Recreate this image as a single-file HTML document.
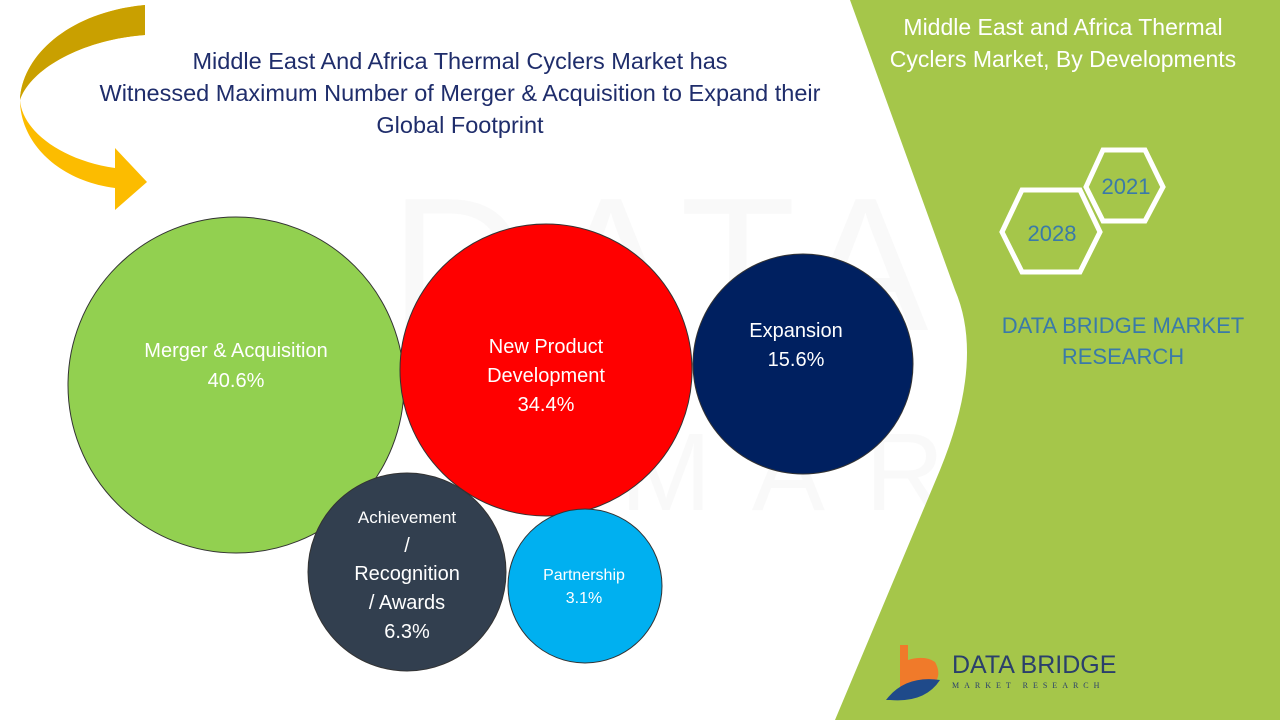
<!DOCTYPE html>
<html><head><meta charset="utf-8"><style>
html,body{margin:0;padding:0;width:1280px;height:720px;overflow:hidden;background:#fff;font-family:"Liberation Sans",sans-serif}
</style></head><body>
<svg width="1280" height="720" viewBox="0 0 1280 720" xmlns="http://www.w3.org/2000/svg" style="position:absolute;left:0;top:0">
<rect width="1280" height="720" fill="#fff"/>
<g opacity="0.035" font-family="Liberation Sans, sans-serif" fill="#777">
<text x="390" y="330" font-size="190" letter-spacing="20">DATA BRIDGE</text>
<text x="620" y="510" font-size="110" letter-spacing="40">MARKET RESEARCH</text>
</g>
<path d="M850 0 L1280 0 L1280 720 L835 720 L940 470 Q985 360 955 290 Z" fill="#a5c64a"/>
<!-- arrow -->
<path d="M145 5 C70 12 22 55 20 100 C22 130 60 160 115 168 L115 148 L147 182 L115 210 L115 188 C55 180 20 140 20 100 C30 70 80 40 145 35 Z" fill="#fcbc00"/>
<path d="M145 5 C70 12 22 55 20 100 C30 70 80 40 145 35 Z" fill="#c9a000"/>
<g font-family="Liberation Sans, sans-serif" font-size="23.5" fill="#1f2d6b" text-anchor="middle">
<text x="460" y="69">Middle East And Africa Thermal Cyclers Market has</text>
<text x="460" y="101">Witnessed Maximum Number of Merger &amp; Acquisition to Expand their</text>
<text x="460" y="133">Global Footprint</text>
</g>
<g font-family="Liberation Sans, sans-serif" font-size="23" fill="#fff" text-anchor="middle">
<text x="1063" y="35">Middle East and Africa Thermal</text>
<text x="1063" y="67">Cyclers Market, By Developments</text>
</g>
<polygon points="1103,150 1145,150 1163,187 1145,221 1103,221 1086,187" fill="none" stroke="#fff" stroke-width="5"/>
<polygon points="1022,190 1080,190 1100,232 1080,272 1022,272 1002,232" fill="none" stroke="#fff" stroke-width="5"/>
<g font-family="Liberation Sans, sans-serif" font-size="22" fill="#3a7aa8" text-anchor="middle">
<text x="1126" y="194">2021</text>
<text x="1052" y="241">2028</text>
<text x="1123" y="333">DATA BRIDGE MARKET</text>
<text x="1123" y="364">RESEARCH</text>
</g>
<path d="M900 645 L900 690 L925 690 Q945 680 935 662 Q925 655 908 660 L908 645 Z" fill="#f07a2a"/>
<path d="M886 700 Q905 675 940 680 Q925 703 890 700 Z" fill="#1f4a8a"/>
<text x="952" y="673" font-family="Liberation Sans, sans-serif" font-size="25" fill="#2a3f6b">DATA BRIDGE</text>
<text x="952" y="688" font-family="Liberation Serif, serif" font-size="8" fill="#2a3f6b" letter-spacing="5">MARKET RESEARCH</text>
<g stroke="#333" stroke-width="1">
<circle cx="236" cy="385" r="168" fill="#92d050"/>
<circle cx="546" cy="370" r="146" fill="#ff0000"/>
<circle cx="803" cy="364" r="110" fill="#002060"/>
<circle cx="407" cy="572" r="99" fill="#323f4f"/>
<circle cx="585" cy="586" r="77" fill="#00b0f0"/>
</g>
<g font-family="Liberation Sans, sans-serif" fill="#fff" text-anchor="middle">
<text x="236" y="357" font-size="20">Merger &amp; Acquisition</text>
<text x="236" y="387" font-size="20">40.6%</text>
<text x="546" y="353" font-size="20">New Product</text>
<text x="546" y="382" font-size="20">Development</text>
<text x="546" y="411" font-size="20">34.4%</text>
<text x="796" y="337" font-size="20">Expansion</text>
<text x="796" y="366" font-size="20">15.6%</text>
<text x="407" y="523" font-size="17">Achievement</text>
<text x="407" y="552" font-size="20">/</text>
<text x="407" y="580" font-size="20">Recognition</text>
<text x="407" y="609" font-size="20">/ Awards</text>
<text x="407" y="638" font-size="20">6.3%</text>
<text x="584" y="580" font-size="16">Partnership</text>
<text x="584" y="603" font-size="16">3.1%</text>
</g>
</svg>
</body></html>
